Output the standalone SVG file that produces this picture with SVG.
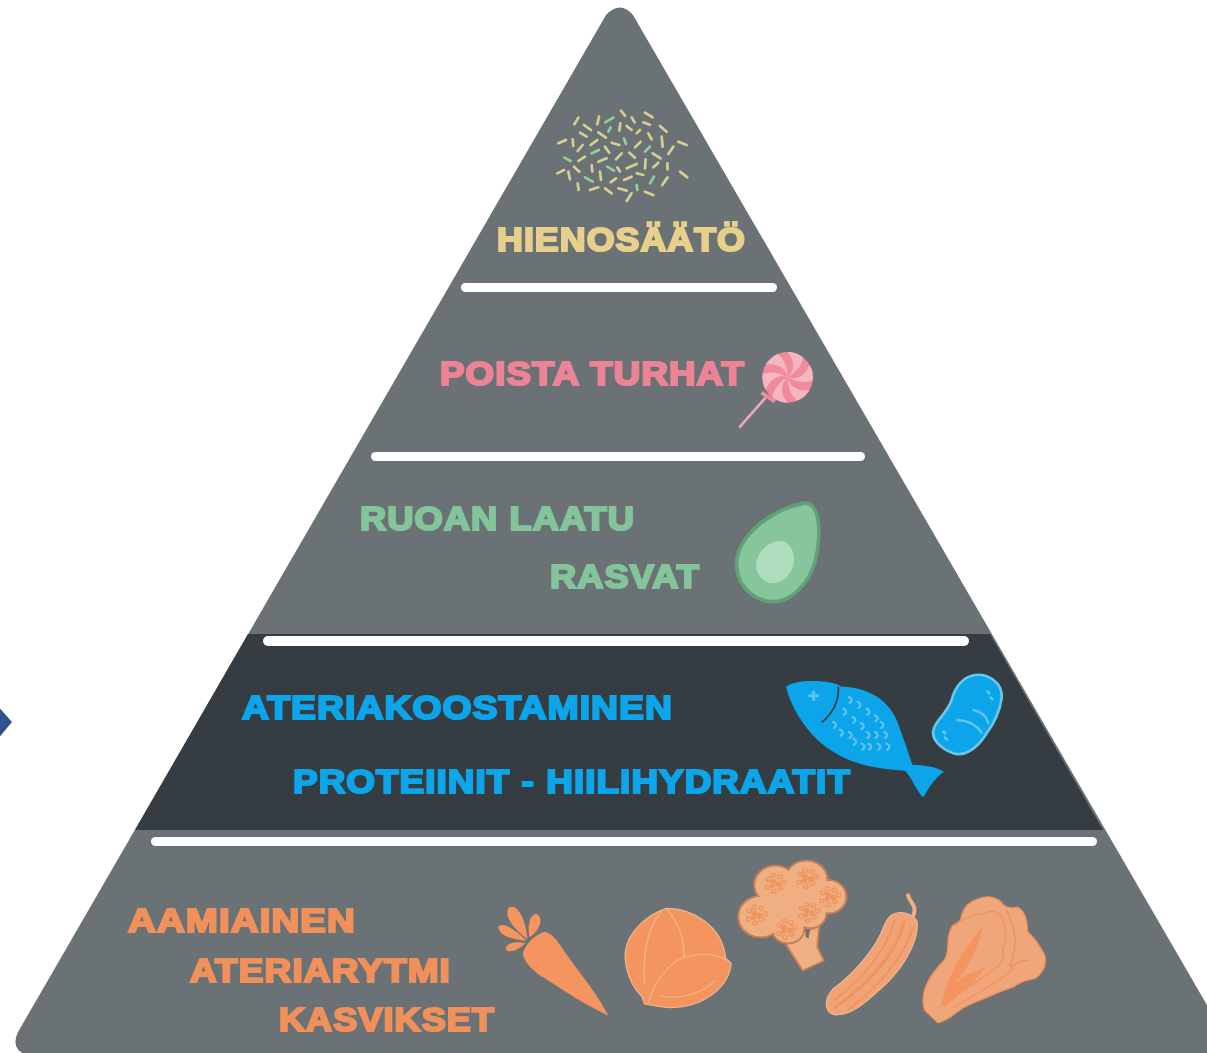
<svg xmlns="http://www.w3.org/2000/svg" xmlns:xlink="http://www.w3.org/1999/xlink" width="1207" height="1053" viewBox="0 0 1207 1053">
<style>
.t{font-family:"Liberation Sans",Arial,sans-serif;font-weight:700;font-size:34px;letter-spacing:1px;stroke-width:2.2px;stroke-linejoin:miter}
.bar{fill:#fff}
.y{fill:#e6d08c;stroke:#e6d08c}.p{fill:#ec8496;stroke:#ec8496}.g{fill:#83c49b;stroke:#83c49b}.b{fill:#0ea5e9;stroke:#0ea5e9}.o{fill:#f0905a;stroke:#f0905a}
.sp line{stroke:#d8cf90;stroke-width:8;stroke-linecap:round}
.sp line.gr{stroke:#8fd0a0}
.sc{fill:none;stroke:#62c4ee;stroke-width:7;stroke-linecap:round}
.lf{fill:#f4945f}
.ln{fill:none;stroke:#f0b78d;stroke-width:3.5;stroke-linecap:round}
.dk{fill:none;stroke:#f0935c;stroke-width:4;stroke-linecap:round;stroke-linejoin:round}
</style>
<defs>
<filter id="soft" filterUnits="userSpaceOnUse" x="0" y="0" width="1207" height="1053"><feGaussianBlur stdDeviation="0.55"/></filter>
<path id="blade" d="M0 0C22-18 22-50 0-76A76 76 0 0 1 46-60C42-35 25-15 0 0Z" fill="#f5b6c0"/>
<path id="scale" d="M-5-9C5-5 6 4-3 9" class="sc"/>
<g id="floret" fill="none" stroke="#ef9560" stroke-width="4">
<circle cx="-20" cy="-12" r="6"/><circle cx="-6" cy="-24" r="6"/><circle cx="12" cy="-20" r="6"/><circle cx="24" cy="-4" r="6"/><circle cx="14" cy="14" r="6"/><circle cx="-4" cy="24" r="6"/><circle cx="-22" cy="12" r="6"/>
<circle cx="-6" cy="-6" r="6" fill="#ef9560"/><circle cx="8" cy="2" r="6" fill="#ef9560"/><circle cx="-8" cy="8" r="5" fill="#ef9560"/>
</g>
</defs>
<rect width="1207" height="1053" fill="#fff"/>
<g id="picture" filter="url(#soft)">
<path id="diamond" d="M-4 704L12 722L-4 741Z" fill="#33508f"/>
<path id="pyramid" d="M606 15Q620 0 633 15L1211 1012V1057H36Q8 1053 18 1032Z" fill="#6b7275"/>
<path id="band" d="M248 634H990L1103 830H135Z" fill="#343d42"/>
<g id="dividers">
<rect class="bar" x="461" y="283" width="316" height="9" rx="4.5"/>
<rect class="bar" x="371" y="452" width="494" height="9" rx="4.5"/>
<rect class="bar" x="263" y="636" width="706" height="10" rx="5"/>
<rect class="bar" x="151" y="837" width="946" height="9" rx="4.5"/>
</g>
<g id="tier-hienosaato">
<text class="t y" x="497" y="251" textLength="249" lengthAdjust="spacingAndGlyphs">HIENOSÄÄTÖ</text>
<g class="sp" transform="translate(480 90) scale(.3333)">
<line x1="283" y1="103" x2="295" y2="83"/><line x1="312" y1="105" x2="333" y2="120"/><line x1="352" y1="103" x2="357" y2="80"/><line class="gr" x1="376" y1="97" x2="400" y2="83"/><line x1="423" y1="62" x2="435" y2="77"/><line x1="455" y1="82" x2="464" y2="97"/><line x1="495" y1="68" x2="518" y2="82"/><line x1="490" y1="97" x2="510" y2="104"/><line x1="418" y1="122" x2="421" y2="100"/><line class="gr" x1="385" y1="125" x2="392" y2="112"/><line x1="300" y1="128" x2="320" y2="140"/><line x1="355" y1="127" x2="378" y2="143"/><line x1="440" y1="108" x2="455" y2="120"/><line x1="470" y1="130" x2="480" y2="120"/><line x1="540" y1="108" x2="560" y2="125"/><line x1="505" y1="130" x2="515" y2="148"/><line x1="235" y1="160" x2="258" y2="150"/><line x1="278" y1="148" x2="280" y2="168"/><line x1="293" y1="183" x2="308" y2="165"/><line x1="332" y1="165" x2="352" y2="150"/><line x1="395" y1="158" x2="418" y2="165"/><line class="gr" x1="432" y1="145" x2="438" y2="162"/><line x1="465" y1="172" x2="482" y2="155"/><line x1="545" y1="140" x2="548" y2="170"/><line x1="595" y1="155" x2="620" y2="165"/><line x1="375" y1="170" x2="388" y2="188"/><line class="gr" x1="335" y1="190" x2="357" y2="180"/><line x1="408" y1="208" x2="425" y2="190"/><line x1="448" y1="188" x2="465" y2="203"/><line class="gr" x1="495" y1="185" x2="510" y2="170"/><line x1="565" y1="192" x2="580" y2="170"/><line class="gr" x1="253" y1="203" x2="272" y2="213"/><line x1="295" y1="213" x2="315" y2="200"/><line x1="355" y1="215" x2="380" y2="205"/><line x1="518" y1="190" x2="542" y2="205"/><line x1="232" y1="250" x2="252" y2="240"/><line x1="282" y1="230" x2="298" y2="245"/><line x1="335" y1="225" x2="337" y2="245"/><line class="gr" x1="382" y1="230" x2="402" y2="242"/><line x1="412" y1="232" x2="420" y2="245"/><line x1="440" y1="235" x2="470" y2="222"/><line x1="495" y1="235" x2="497" y2="208"/><line x1="520" y1="232" x2="535" y2="218"/><line x1="562" y1="220" x2="563" y2="238"/><line x1="600" y1="245" x2="622" y2="262"/><line x1="265" y1="245" x2="270" y2="268"/><line class="gr" x1="315" y1="262" x2="338" y2="275"/><line x1="360" y1="245" x2="363" y2="270"/><line x1="392" y1="277" x2="408" y2="265"/><line x1="432" y1="270" x2="455" y2="260"/><line x1="470" y1="250" x2="490" y2="255"/><line class="gr" x1="510" y1="280" x2="522" y2="260"/><line x1="547" y1="285" x2="563" y2="262"/><line x1="293" y1="280" x2="296" y2="300"/><line x1="330" y1="300" x2="355" y2="292"/><line x1="375" y1="295" x2="395" y2="310"/><line x1="415" y1="295" x2="440" y2="302"/><line class="gr" x1="470" y1="285" x2="472" y2="300"/><line x1="495" y1="305" x2="520" y2="315"/><line x1="440" y1="333" x2="455" y2="310"/>
</g>
</g>
<g id="tier-poista-turhat">
<text class="t p" x="440" y="385" textLength="305" lengthAdjust="spacingAndGlyphs">POISTA TURHAT</text>
<g transform="translate(480 90) scale(.3333)">
<path d="M855 925L780 1010" stroke="#eaa9b4" stroke-width="8" stroke-linecap="round"/>
<path d="M845 908L885 935" stroke="#f08b9c" stroke-width="12"/>
<circle cx="923" cy="862" r="76" fill="#f08b9c"/>
<g transform="translate(923 862)">
<use xlink:href="#blade" href="#blade"/>
<use xlink:href="#blade" href="#blade" transform="rotate(60)"/>
<use xlink:href="#blade" href="#blade" transform="rotate(120)"/>
<use xlink:href="#blade" href="#blade" transform="rotate(180)"/>
<use xlink:href="#blade" href="#blade" transform="rotate(240)"/>
<use xlink:href="#blade" href="#blade" transform="rotate(300)"/>
</g>
</g>
</g>
<g id="tier-ruoan-laatu">
<text class="t g" x="360" y="530" textLength="275" lengthAdjust="spacingAndGlyphs">RUOAN LAATU</text>
<text class="t g" x="550" y="588" textLength="150" lengthAdjust="spacingAndGlyphs">RASVAT</text>
<g transform="translate(720 490) scale(.3333)">
<path d="M250 40C285 32 300 80 296 150C290 230 260 300 190 330C120 350 55 300 50 230C45 170 95 115 150 80C185 58 220 45 250 40Z" fill="#87c59c" stroke="#61a277" stroke-width="11"/>
<path d="M180 153C215 155 228 195 220 225C210 265 175 285 145 278C115 265 100 235 112 205C125 175 150 153 180 153Z" fill="#b0dcbe"/>
</g>
</g>
<g id="tier-ateriakoostaminen">
<text class="t b" x="242" y="719" textLength="431" lengthAdjust="spacingAndGlyphs">ATERIAKOOSTAMINEN</text>
<text class="t b" x="293" y="793" textLength="558" lengthAdjust="spacingAndGlyphs">PROTEIINIT - HIILIHYDRAATIT</text>
<g transform="translate(720 490) scale(.3333)">
<path d="M198 590C230 565 340 570 365 590C430 590 500 620 530 690C550 740 565 790 578 825C610 825 650 830 672 845C650 860 630 885 612 920C600 925 575 860 555 842C480 838 400 825 340 785C270 745 215 660 198 590Z" fill="#0aa5e9"/>
<path d="M355 590C358 630 340 670 305 697" fill="none" stroke="#343d42" stroke-width="5"/>
<path d="M265 617H297M281 602V632" stroke="#62c4ee" stroke-width="9" fill="none"/>
<g>
<use xlink:href="#scale" href="#scale" x="392" y="630"/><use xlink:href="#scale" href="#scale" x="418" y="645"/><use xlink:href="#scale" href="#scale" x="445" y="665"/><use xlink:href="#scale" href="#scale" x="470" y="685"/><use xlink:href="#scale" href="#scale" x="487" y="705"/><use xlink:href="#scale" href="#scale" x="375" y="665"/><use xlink:href="#scale" href="#scale" x="403" y="690"/><use xlink:href="#scale" href="#scale" x="428" y="708"/><use xlink:href="#scale" href="#scale" x="445" y="735"/><use xlink:href="#scale" href="#scale" x="470" y="735"/><use xlink:href="#scale" href="#scale" x="498" y="735"/><use xlink:href="#scale" href="#scale" x="345" y="705"/><use xlink:href="#scale" href="#scale" x="365" y="728"/><use xlink:href="#scale" href="#scale" x="392" y="735"/><use xlink:href="#scale" href="#scale" x="405" y="755"/><use xlink:href="#scale" href="#scale" x="430" y="770"/><use xlink:href="#scale" href="#scale" x="450" y="770"/><use xlink:href="#scale" href="#scale" x="478" y="770"/><use xlink:href="#scale" href="#scale" x="505" y="770"/>
</g>
<path d="M765 555C800 550 850 575 845 625C840 660 830 690 800 730C770 780 730 800 700 790C660 775 630 745 642 715C650 690 680 670 695 630C705 590 730 560 765 555Z" fill="#0aa5e9" stroke="#6cc5ea" stroke-width="8"/>
<path d="M712 690C745 692 770 705 785 728M760 660C785 665 800 680 805 700" class="sc"/>
<path d="M802 605L808 610M812 623L817 628M670 725L676 730M675 743L681 748" class="sc" style="stroke-width:8px"/>
</g>
</g>
<g id="tier-aamiainen">
<text class="t o" x="128" y="932" textLength="228" lengthAdjust="spacingAndGlyphs">AAMIAINEN</text>
<text class="t o" x="190" y="982" textLength="261" lengthAdjust="spacingAndGlyphs">ATERIARYTMI</text>
<text class="t o" x="279" y="1031" textLength="216" lengthAdjust="spacingAndGlyphs">KASVIKSET</text>
<g transform="translate(490 850) scale(.3636 .3333)">
<g id="carrot">
<path class="lf" d="M90 310C100 280 120 255 150 245C175 250 190 280 215 320C255 380 300 440 325 497C270 470 200 420 150 385C120 365 95 340 90 310Z"/>
<path class="lf" d="M103 268C70 240 35 200 52 172C80 160 100 220 103 268ZM108 262C103 225 110 190 128 192C150 205 135 245 108 262ZM100 272C70 270 22 258 23 230C35 212 78 245 100 272ZM97 280C80 300 50 312 43 298C43 278 75 273 97 280Z"/>
</g>
<g id="cabbage">
<path d="M485 175C560 175 640 230 648 325L663 340C660 400 600 470 500 473C470 473 445 465 425 462L418 440C390 410 370 360 372 310C375 250 430 195 485 175Z" fill="#f4945f" stroke="#f0b78d" stroke-width="3.5"/>
<path class="ln" d="M485 175C520 220 535 270 533 322M533 322C590 305 640 315 663 340M533 322C490 340 450 400 435 458M470 185C430 240 420 320 425 400M470 438C520 450 590 430 618 390"/>
</g>
<g id="broccoli">
<path d="M815 285L860 362L918 332L900 290L905 230L850 250Z" fill="#efaf82" stroke="#c97f55" stroke-width="5"/>
<g fill="#efaf82" stroke="#c97f55" stroke-width="6"><circle cx="785" cy="105" r="58"/><circle cx="870" cy="90" r="58"/><circle cx="930" cy="140" r="50"/><circle cx="745" cy="200" r="62"/><circle cx="820" cy="235" r="45"/><circle cx="880" cy="190" r="45"/></g>
<g fill="#efaf82"><circle cx="785" cy="105" r="55"/><circle cx="870" cy="90" r="55"/><circle cx="930" cy="140" r="47"/><circle cx="745" cy="200" r="59"/><circle cx="820" cy="235" r="42"/><circle cx="880" cy="190" r="42"/><rect x="790" y="120" width="110" height="100"/></g>
<path d="M868 238L880 240L876 265L868 262Z" fill="#6b7275"/>
<use xlink:href="#floret" href="#floret" x="785" y="100"/><use xlink:href="#floret" href="#floret" x="873" y="85"/><use xlink:href="#floret" href="#floret" x="935" y="140"/><use xlink:href="#floret" href="#floret" x="733" y="195"/><use xlink:href="#floret" href="#floret" x="815" y="238"/><use xlink:href="#floret" href="#floret" x="877" y="187"/>
</g>
<g id="cucumber">
<path d="M1165 195C1176 165 1150 152 1150 135" fill="none" stroke="#f2ad82" stroke-width="11" stroke-linecap="round"/>
<path d="M1105 195C1125 180 1165 190 1175 215C1180 280 1130 370 1060 430C1020 470 990 495 950 495C920 490 915 450 945 415C990 380 1050 310 1075 250C1085 225 1090 205 1105 195Z" fill="#efa376" stroke="#f7ba8f" stroke-width="3"/>
<path class="dk" style="stroke-width:8px" d="M1140 215C1120 300 1060 385 950 472"/>
<path class="dk" style="stroke-width:5px" d="M1112 212C1090 300 1030 380 950 448M1163 235C1130 340 1060 415 985 480"/>
</g>
<g id="lettuce">
<path d="M1195 480C1180 420 1215 370 1250 330C1268 300 1250 265 1272 228Q1295 220 1298 195Q1305 160 1340 148Q1375 130 1405 155Q1418 180 1450 172Q1478 185 1478 245Q1505 270 1525 315Q1535 355 1500 385Q1465 390 1440 410Q1400 425 1360 445Q1310 465 1285 485Q1260 510 1232 518Z" fill="#efa67a" stroke="#f0935c" stroke-width="4"/>
<path class="dk" d="M1272 228Q1320 190 1360 190Q1400 170 1412 215Q1425 260 1410 300Q1420 330 1385 360Q1340 395 1300 420Q1265 445 1250 470M1420 180Q1440 220 1445 270Q1440 320 1430 345Q1445 355 1420 375Q1360 420 1275 472M1480 330Q1450 335 1435 350"/>
<path d="M1240 470C1255 380 1300 300 1355 230C1340 310 1300 380 1265 410C1300 380 1340 360 1360 355C1330 400 1280 450 1240 470Z" fill="#f4945f"/>
</g>
</g>
</g>
</g>
</svg>
